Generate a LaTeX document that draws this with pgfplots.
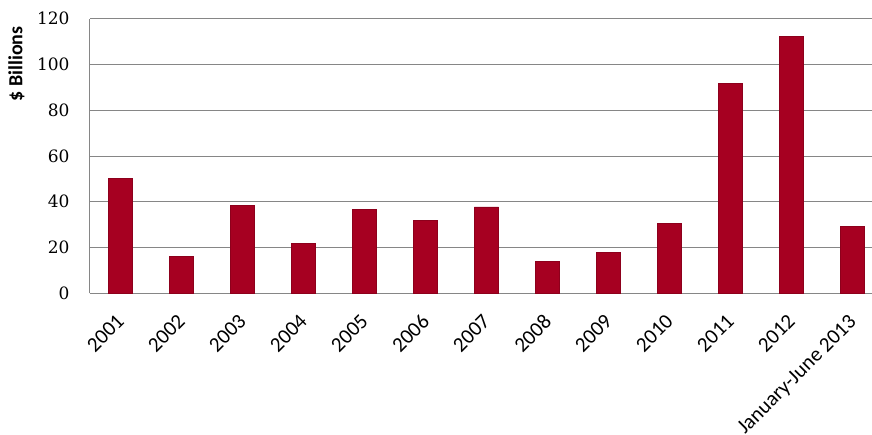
\documentclass[border=0pt]{standalone}
\usepackage{pgfplots}
\pgfplotsset{compat=1.18}
\usepackage{fontspec}
\setmainfont{Carlito}
\newfontfamily\tickfont{DejaVu Serif}
\definecolor{barred}{RGB}{166,0,33}
\definecolor{gridgray}{RGB}{134,134,134}
\begin{document}
\begin{tikzpicture}
\begin{axis}[name=ax, scale only axis, width=782pt, height=274.6pt,
  /pgf/number format/assume math mode=true,
  ymin=0, ymax=120, ytick={0,20,...,120},
  xmin=-0.5, xmax=12.32,
  axis x line=bottom, axis y line=left,
  axis line style={-, draw=gridgray, line width=1pt},
  ymajorgrids, grid style={gridgray, line width=1pt},
  major tick length=0,
  xtick={0,...,12},
  xticklabels={2001,2002,2003,2004,2005,2006,2007,2008,2009,2010,2011,2012,January-June 2013},
  xticklabel shift=15pt,
  xticklabel style={xshift=-5pt, rotate=45, anchor=north east, font=\fontsize{21}{21}\selectfont},
  yticklabel style={font=\tickfont\fontsize{17}{17}\selectfont, xshift=-17pt},
  ylabel={\$ Billions},
  ylabel style={font=\bfseries\fontsize{20}{20}\selectfont, at={(axis description cs:-0.0793,0.835)}, anchor=south},
  ybar, bar width=24.3pt]
\addplot[fill=barred, draw=barred!85!black, line width=0.6pt] coordinates {
(0,50.1) (1,16.2) (2,38.5) (3,21.7) (4,36.7) (5,31.7) (6,37.8) (7,14.0) (8,17.7) (9,30.6) (10,91.8) (11,112.4) (12,29.4)};
\end{axis}
\pgfresetboundingbox
\path ([xshift=-90pt,yshift=-140.7pt]ax.south west) rectangle ([xshift=782pt,yshift=293.3pt]ax.south west);
\end{tikzpicture}
\end{document}
